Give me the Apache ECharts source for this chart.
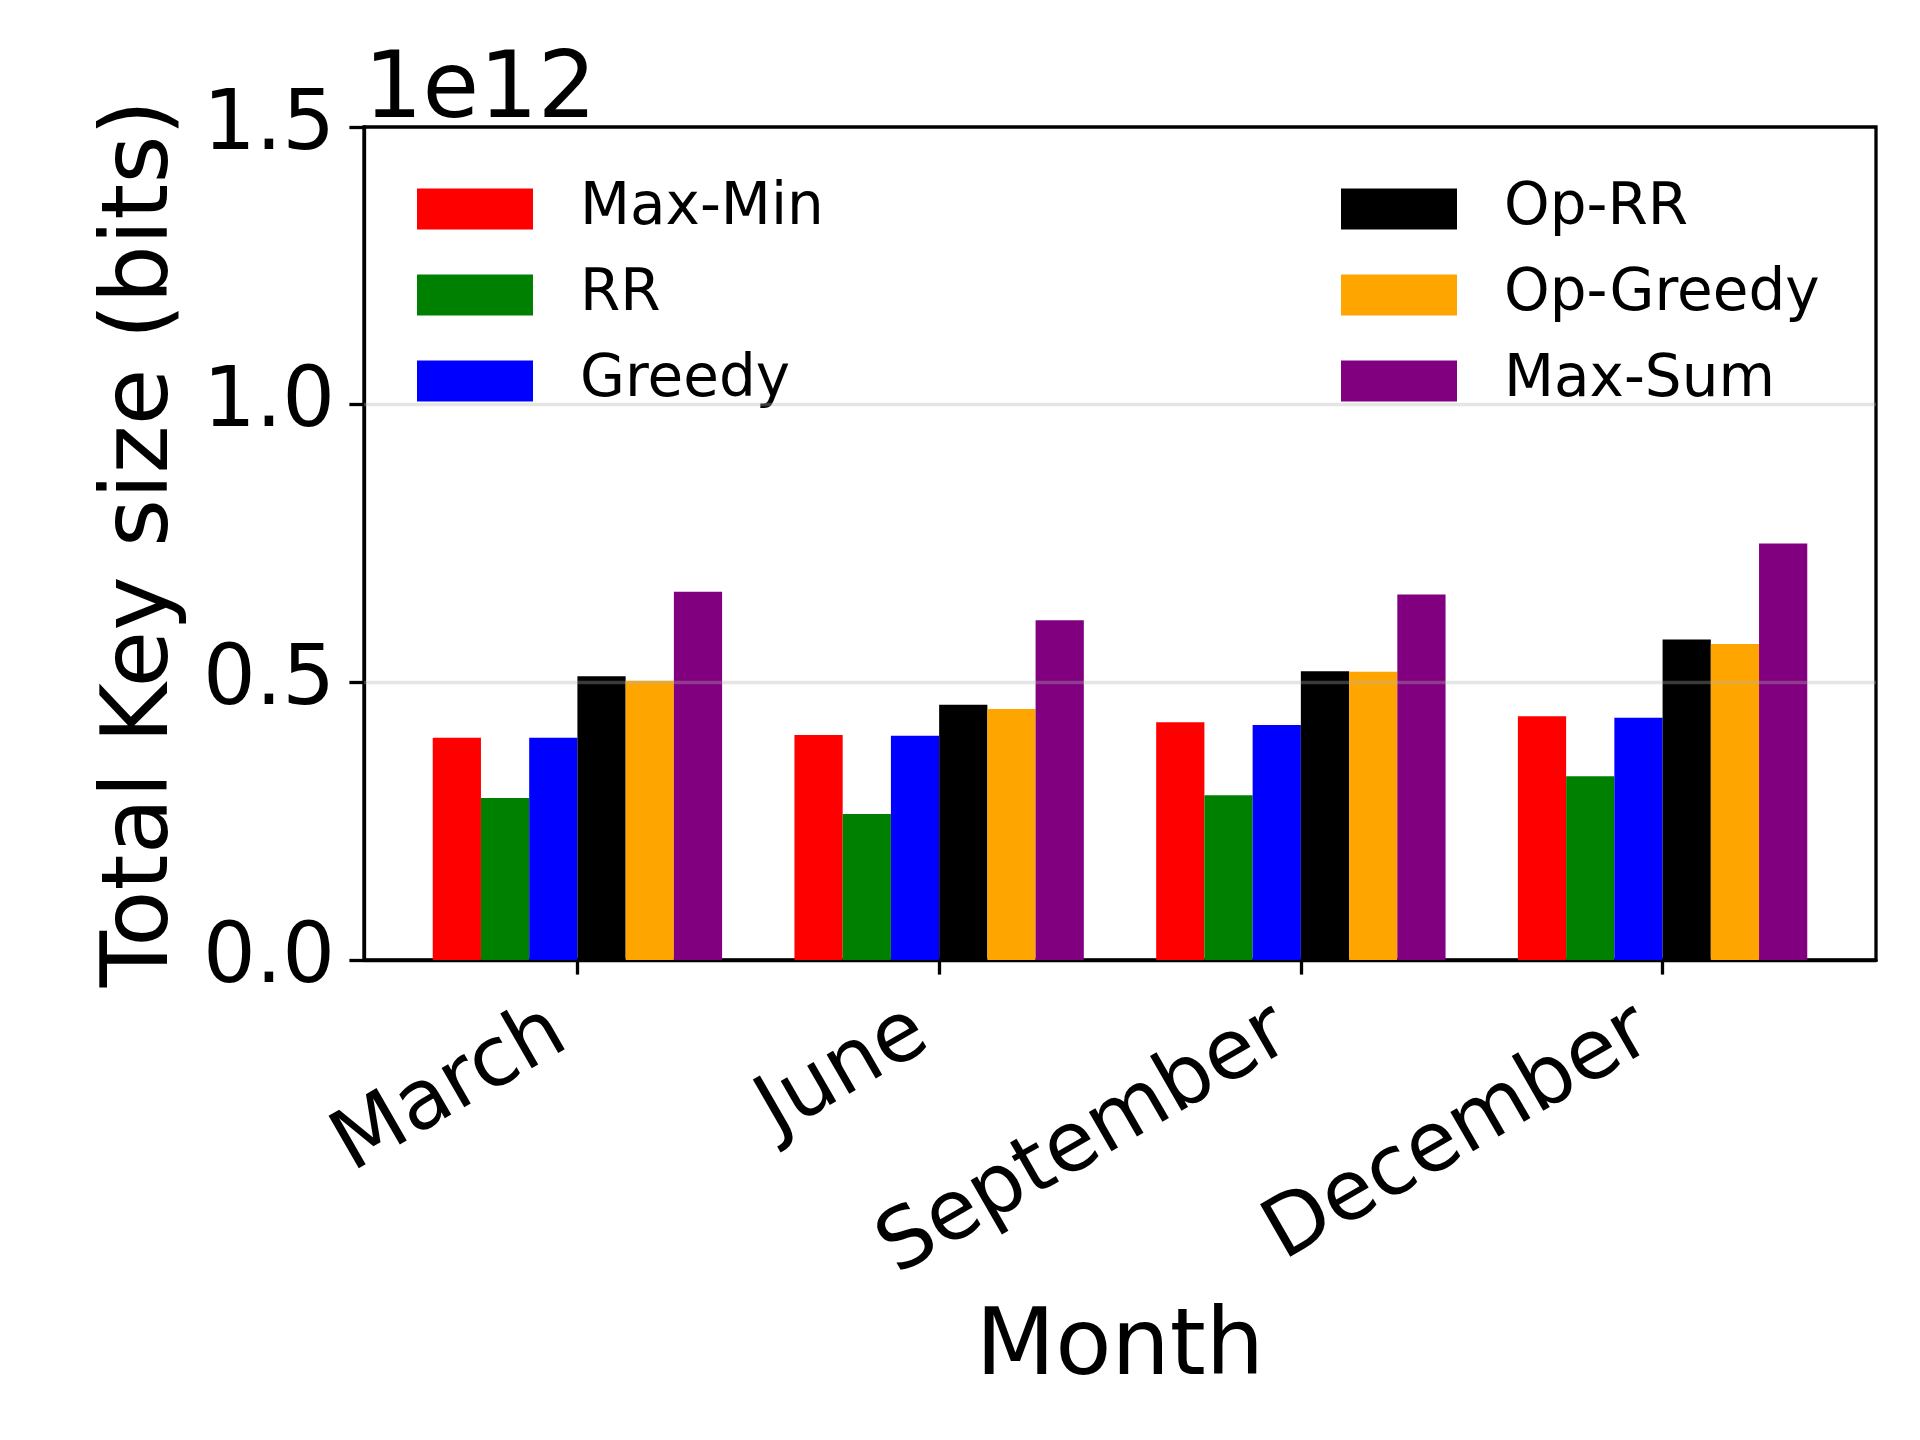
<!DOCTYPE html>
<html>
<head>
<meta charset="utf-8">
<script src="https://cdn.jsdelivr.net/npm/echarts@6/dist/echarts.min.js"></script>
<style>
  html, body { margin: 0; padding: 0; background: #fff; }
  #chart { width: 1920px; height: 1440px; }
</style>
</head>
<body>
<div id="chart"></div>
<script>
// Values in units of 1e12 bits
const months = ['March', 'June', 'September', 'December'];
const seriesNames = ['Max-Min', 'RR', 'Greedy', 'Op-RR', 'Op-Greedy', 'Max-Sum'];
const maxMin   = [0.400, 0.405, 0.428, 0.439];
const rr       = [0.2915, 0.263, 0.2966, 0.331];
const greedy   = [0.400, 0.404, 0.423, 0.436];
const opRR     = [0.511, 0.4595, 0.520, 0.577];
const opGreedy = [0.503, 0.452, 0.519, 0.569];
const maxSum   = [0.663, 0.612, 0.658, 0.750];
const yTicks = [0, 0.5, 1.0, 1.5];
const offsetLabel = '1e12';

const colors = ['#ff0000', '#008000', '#0000ff', '#000000', '#ffa500', '#800080'];
const allValues = [maxMin, rr, greedy, opRR, opGreedy, maxSum];
const FONT = 'DejaVu Sans';
const LW = 3.3;

const series = allValues.map((vals, s) => {
  const obj = {
    name: seriesNames[s],
    type: 'bar',
    barWidth: '13.333%',
    barGap: '0%',
    itemStyle: { color: colors[s] },
    data: vals.map((v, i) => [i, v])
  };
  if (s === allValues.length - 1) {
    obj.markLine = {
      silent: true,
      symbol: ['none', 'none'],
      label: { show: false },
      z: 10,
      lineStyle: { color: 'rgba(176,176,176,0.33)', width: LW, type: 'solid' },
      data: [{ yAxis: yTicks[1] }, { yAxis: yTicks[2] }]
    };
  }
  return obj;
});

const legendText = { fontFamily: FONT, fontSize: 58, color: '#000', padding: [0, 0, 0, 42] };

const chart = echarts.init(document.getElementById('chart'), null, { renderer: 'canvas' });
chart.setOption({
  animation: false,
  backgroundColor: '#ffffff',
  textStyle: { fontFamily: FONT, color: '#000' },
  grid: {
    left: 364, right: 44, top: 127, bottom: 480,
    show: true, borderColor: '#000', borderWidth: LW, containLabel: false
  },
  legend: [
    {
      data: seriesNames.slice(0, 3),
      orient: 'vertical', left: 417, top: 180, padding: 0,
      itemWidth: 116, itemHeight: 41, itemGap: 28, icon: 'rect',
      textStyle: legendText
    },
    {
      data: seriesNames.slice(3),
      orient: 'vertical', left: 1341, top: 180, padding: 0,
      itemWidth: 116, itemHeight: 41, itemGap: 28, icon: 'rect',
      textStyle: legendText
    }
  ],
  xAxis: {
    type: 'value',
    min: -0.59, max: 3.59,
    name: 'Month',
    nameLocation: 'middle',
    nameGap: 344,
    nameTextStyle: { fontFamily: FONT, fontSize: 92, color: '#000', verticalAlign: 'top' },
    axisLine: { show: true, onZero: false, lineStyle: { color: '#000', width: LW } },
    axisTick: { show: true, length: 14.6, lineStyle: { color: '#000', width: LW }, customValues: [0, 1, 2, 3] },
    axisLabel: {
      show: true, rotate: 30, margin: 57,
      fontFamily: FONT, fontSize: 83, color: '#000',
      padding: [0, 20, 0, 0],
      customValues: [0, 1, 2, 3],
      formatter: (v) => months[Math.round(v)]
    },
    splitLine: { show: false }
  },
  yAxis: {
    type: 'value',
    min: 0, max: 1.5, interval: 0.5,
    name: 'Total Key size (bits)',
    nameLocation: 'middle',
    nameGap: 175,
    nameTextStyle: { fontFamily: FONT, fontSize: 92, color: '#000' },
    axisLine: { show: true, onZero: false, lineStyle: { color: '#000', width: LW } },
    axisTick: { show: true, length: 14.6, lineStyle: { color: '#000', width: LW } },
    axisLabel: {
      margin: 29, fontFamily: FONT, fontSize: 83, color: '#000',
      formatter: (v) => v.toFixed(1)
    },
    splitLine: { show: false }
  },
  graphic: [
    {
      type: 'text',
      x: 364, y: 139,
      style: { text: offsetLabel, font: '92px "DejaVu Sans"', fill: '#000', verticalAlign: 'bottom', align: 'left' }
    }
  ],
  series: series
});
</script>
</body>
</html>
